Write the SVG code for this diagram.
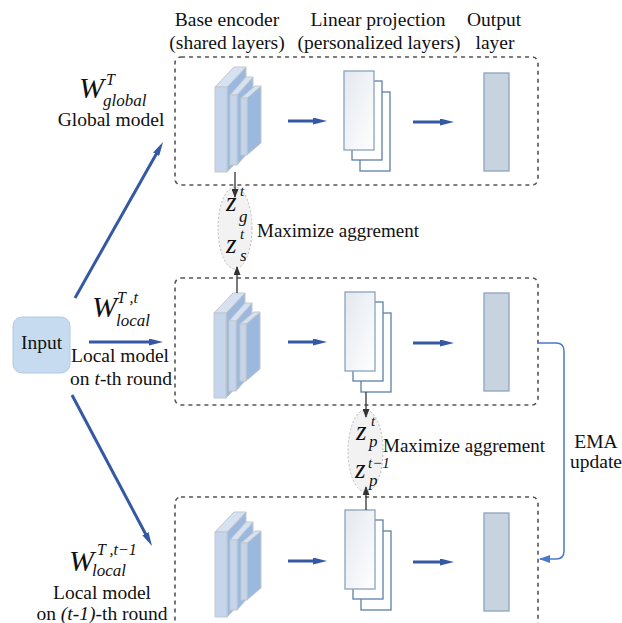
<svg xmlns="http://www.w3.org/2000/svg" width="622" height="623" viewBox="0 0 622 623">
<defs>
<style>
text{font-family:"Liberation Serif","Times New Roman",serif;fill:#111}
.t{font-size:19.5px}
.i{font-style:italic}
.box{fill:none;stroke:#555;stroke-width:1.6;stroke-dasharray:4 4}
.blue{stroke:#3558a5;stroke-width:3;fill:none}
.blk{stroke:#333;stroke-width:1.3;fill:none}
.sf{fill:#c4d5ec;stroke:#c3c7cc;stroke-width:1}
.ss{fill:#9bb8df;stroke:#c3c7cc;stroke-width:1}
.st{fill:#d6e2f2;stroke:#c3c7cc;stroke-width:1}
.pg{fill:#fff;stroke:#5d80a8;stroke-width:1.3}
.pf{fill:url(#pgrad);stroke:#8aa3be;stroke-width:1.3}
.out{fill:#c8d3e0;stroke:#8ea3bd;stroke-width:1.3}
.ell{fill:#f2f2f2;stroke:#bbb;stroke-width:1;stroke-dasharray:2 2}
</style>
<linearGradient id="pgrad" x1="0" y1="0" x2="1" y2="1">
<stop offset="0" stop-color="#e3e8ef"/>
<stop offset="1" stop-color="#ffffff"/>
</linearGradient>
<marker id="ab" markerUnits="userSpaceOnUse" markerWidth="14" markerHeight="7" refX="4" refY="3.5" orient="auto"><path d="M0,0 L14,3.5 L0,7 z" fill="#3558a5"/></marker>
<marker id="ak" markerUnits="userSpaceOnUse" markerWidth="9" markerHeight="7" refX="8" refY="3.5" orient="auto"><path d="M0,0 L9,3.5 L0,7 z" fill="#333"/></marker>
<marker id="ae" markerUnits="userSpaceOnUse" markerWidth="11" markerHeight="8" refX="10" refY="4" orient="auto"><path d="M0,0 L11,4 L0,8 z" fill="#4a78cc"/></marker>
<g id="enc">
<polygon class="ss" points="227,87 246,67 246,152 227,172"/>
<polygon class="st" points="215,87 227,87 246,67 234,67"/>
<rect class="sf" x="215" y="87" width="12" height="85"/>
<polygon class="ss" points="237,95 253,77 253,147 237,165"/>
<polygon class="st" points="230,95 237,95 253,77 246,77"/>
<rect class="sf" x="230" y="95" width="7" height="70"/>
<polygon class="ss" points="247,98 261,86 261,143 247,155"/>
<polygon class="st" points="241,98 247,98 261,86 255,86"/>
<rect class="sf" x="241" y="98" width="6" height="57"/>
</g>
<g id="pages">
<rect class="pg" x="360" y="92" width="30" height="79"/>
<rect class="pg" x="352" y="81" width="30" height="79"/>
<rect class="pf" x="344" y="71" width="30" height="79"/>
</g>
</defs>

<g id="headers">
<text class="t" x="227" y="26" text-anchor="middle">Base encoder</text>
<text class="t" x="227" y="49" text-anchor="middle">(shared layers)</text>
<text class="t" x="378" y="26" text-anchor="middle">Linear projection</text>
<text class="t" x="379" y="49" text-anchor="middle">(personalized layers)</text>
<text class="t" x="494" y="26" text-anchor="middle">Output</text>
<text class="t" x="495" y="49" text-anchor="middle">layer</text>
</g>

<g id="global-model">
<rect class="box" x="175" y="57" width="363" height="128" rx="6"/>
<use href="#enc"/>
<use href="#pages"/>
<rect class="out" x="484" y="73" width="25" height="98"/>
</g>

<g id="local-model-t">
<rect class="box" x="175" y="278" width="363" height="127" rx="6"/>
<use href="#enc" transform="translate(-1,226)"/>
<use href="#pages" transform="translate(1,221)"/>
<rect class="out" x="484" y="293" width="25" height="98"/>
</g>

<g id="local-model-t-1">
<rect class="box" x="175" y="497" width="363" height="150" rx="6"/>
<use href="#enc" transform="translate(0,445)"/>
<use href="#pages" transform="translate(1,439)"/>
<rect class="out" x="484" y="513" width="25" height="98"/>
</g>

<g id="input">
<rect x="13" y="317" width="57" height="56" rx="9" fill="#c6dbef" stroke="#b2c9e0" stroke-width="1"/>
<text class="t" x="41.5" y="349" text-anchor="middle">Input</text>
</g>

<g id="labels">
<text class="i" x="79" y="98" font-size="30">W</text>
<text class="i" x="106" y="85" font-size="16">T</text>
<text class="i" x="103" y="106" font-size="17">global</text>
<text class="t" x="111" y="126" text-anchor="middle">Global model</text>

<text class="i" x="92" y="317" font-size="30">W</text>
<text class="i" x="117" y="303" font-size="16">T ,t</text>
<text class="i" x="116" y="326" font-size="17">local</text>
<text class="t" x="120" y="362" text-anchor="middle">Local model</text>
<text class="t" x="121" y="385" text-anchor="middle">on <tspan class="i">t</tspan>-th round</text>

<text class="i" x="69" y="571" font-size="30">W</text>
<text class="i" x="97" y="555" font-size="16">T ,t−1</text>
<text class="i" x="92" y="576" font-size="17">local</text>
<text class="t" x="102" y="599" text-anchor="middle">Local model</text>
<text class="t" x="102" y="620" text-anchor="middle">on <tspan class="i">(t-1)</tspan>-th round</text>
</g>

<g id="agreement-global">
<ellipse class="ell" cx="235" cy="228" rx="17" ry="41"/>
<text class="i" x="226" y="211" font-size="27">z</text>
<text class="i" x="240" y="196" font-size="15">t</text>
<text class="i" x="239" y="222" font-size="17">g</text>
<text class="i" x="226" y="253" font-size="27">z</text>
<text class="i" x="240" y="239" font-size="15">t</text>
<text class="i" x="240" y="261" font-size="17">s</text>
<text x="257" y="237" font-size="19">Maximize aggrement</text>
</g>

<g id="agreement-personal">
<ellipse class="ell" cx="365.5" cy="451" rx="17.5" ry="41"/>
<text class="i" x="356" y="440" font-size="27">z</text>
<text class="i" x="371" y="426" font-size="15">t</text>
<text class="i" x="369" y="447" font-size="17">p</text>
<text class="i" x="355" y="478" font-size="27">z</text>
<text class="i" x="368" y="468" font-size="15">t−1</text>
<text class="i" x="369" y="486" font-size="17">p</text>
<text x="383" y="452" font-size="19">Maximize aggrement</text>
</g>

<g id="ema-label">
<text class="t" x="596" y="448" text-anchor="middle">EMA</text>
<text class="t" x="596" y="468" text-anchor="middle">update</text>
</g>

<g id="connectors">
<line class="blue" x1="75" y1="298" x2="158.1" y2="150.7" marker-end="url(#ab)"/>
<line class="blue" x1="89" y1="342" x2="153" y2="342" marker-end="url(#ab)"/>
<line class="blue" x1="72" y1="395" x2="147.3" y2="537.2" marker-end="url(#ab)"/>
<line class="blue" x1="288" y1="121" x2="317" y2="121" marker-end="url(#ab)"/>
<line class="blue" x1="413" y1="122" x2="444" y2="122" marker-end="url(#ab)"/>
<line class="blue" x1="288" y1="342" x2="317" y2="342" marker-end="url(#ab)"/>
<line class="blue" x1="413" y1="343" x2="444" y2="343" marker-end="url(#ab)"/>
<line class="blue" x1="288" y1="561" x2="317" y2="561" marker-end="url(#ab)"/>
<line class="blue" x1="413" y1="562" x2="444" y2="562" marker-end="url(#ab)"/>
<line class="blk" x1="235" y1="172" x2="235" y2="197" marker-end="url(#ak)"/>
<line class="blk" x1="237" y1="293" x2="237" y2="267" marker-end="url(#ak)"/>
<line class="blk" x1="366" y1="392" x2="366" y2="417" marker-end="url(#ak)"/>
<line class="blk" x1="366" y1="510" x2="366" y2="487" marker-end="url(#ak)"/>
<path d="M538,343 H556 Q564,343 564,351 V551 Q564,559 556,559 H540" fill="none" stroke="#4a78cc" stroke-width="1.5" marker-end="url(#ae)"/>
</g>
</svg>
